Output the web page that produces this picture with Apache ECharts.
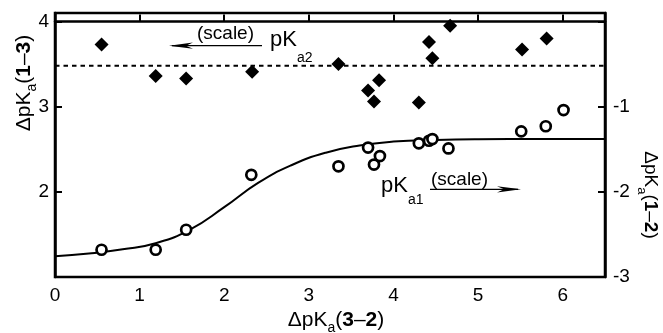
<!DOCTYPE html>
<html>
<head>
<meta charset="utf-8">
<script src="https://cdn.jsdelivr.net/npm/echarts@6/dist/echarts.min.js"></script>
<style>html,body{margin:0;padding:0;background:#fff;}#c{width:663px;height:333px;}</style>
</head>
<body>
<div id="c"></div>
<script>
// ---- data ----
const pKa2X = [0.55, 1.19, 1.55, 2.33, 3.35, 3.70, 3.77, 3.83, 4.30, 4.42, 4.46, 4.67, 5.52, 5.81];
const pKa2Y = [3.73, 3.36, 3.33, 3.41, 3.50, 3.19, 3.06, 3.31, 3.05, 3.76, 3.57, 3.95, 3.67, 3.80]; // left scale

const pKa1X = [0.55, 1.19, 1.55, 2.32, 3.35, 3.70, 3.77, 3.84, 4.30, 4.42, 4.46, 4.65, 5.51, 5.80, 6.01];
const pKa1Y = [-2.68, -2.68, -2.445, -1.80, -1.70, -1.48, -1.68, -1.58, -1.43, -1.40, -1.38, -1.49, -1.29, -1.23, -1.04]; // right scale

const fitX = [0, 0.4, 0.8, 1.2, 1.6, 2.0, 2.4, 2.8, 3.2, 3.6, 4.0, 4.5, 5.0, 5.75, 6.5];
const fitY = [-2.757, -2.725, -2.675, -2.60, -2.44, -2.18, -1.895, -1.685, -1.54, -1.455, -1.41, -1.39, -1.382, -1.38, -1.38]; // right scale

const refLineX = [0, 6.5];
const refLineY = [3.48, 3.48]; // left scale

const xTickLabels = ['0', '1', '2', '3', '4', '5', '6'];
const leftTickLabels = ['2', '3', '4'];
const rightTickLabels = ['-1', '-2', '-3'];

// ---- helpers ----
const FAM = '"Liberation Sans", Arial, Helvetica, sans-serif';
const mctx = document.createElement('canvas').getContext('2d');
function tw(t, size, bold) { mctx.font = (bold ? 'bold ' : '') + size + 'px ' + FAM; return mctx.measureText(t).width; }
function pieceGroup(pieces, x, y, rotation, center) {
  let total = 0;
  pieces.forEach(p => { p.w = tw(p.t, p.s, p.b); total += p.w; });
  let cx = center ? -total / 2 : 0;
  const children = pieces.map(p => {
    const el = { type: 'text', x: cx, y: p.dy || 0, silent: true,
      style: { text: p.t, fill: '#000', font: (p.b ? 'bold ' : '') + p.s + 'px ' + FAM, align: 'left', verticalAlign: 'middle' } };
    cx += p.w;
    return el;
  });
  return { type: 'group', x: x, y: y, rotation: rotation || 0, children: children, silent: true };
}
const zip = (a, b) => a.map((v, i) => [v, b[i]]);

const chart = echarts.init(document.getElementById('c'), null, { renderer: 'canvas' });
const axisCommon = {
  axisLine: { show: true, lineStyle: { color: '#000', width: 2.5 } },
  axisTick: { show: true, inside: true, length: 7, lineStyle: { color: '#000', width: 2 } },
  splitLine: { show: false },
};
const option = {
  animation: false,
  backgroundColor: '#fff',
  grid: { left: 55, right: 58, top: 13, bottom: 56, show: true, borderColor: '#000', borderWidth: 2.5, backgroundColor: 'transparent' },
  xAxis: Object.assign({ type: 'value', min: 0, max: 6.5, interval: 1,
    axisLabel: { color: '#000', fontSize: 19, fontFamily: FAM, margin: 9,
      formatter: v => xTickLabels.includes(String(v)) ? String(v) : '' } }, axisCommon),
  yAxis: [
    Object.assign({ type: 'value', min: 1, max: 4.1, interval: 1, position: 'left',
      axisLabel: { color: '#000', fontSize: 19, fontFamily: FAM, margin: 6,
        formatter: v => leftTickLabels.includes(String(v)) ? String(v) : '' } }, axisCommon),
    Object.assign({ type: 'value', min: -3, max: 0.1, interval: 1, position: 'right',
      axisLabel: { color: '#000', fontSize: 19, fontFamily: FAM, margin: 8,
        formatter: v => rightTickLabels.includes(String(v)) ? String(v) : '' } }, axisCommon)
  ],
  series: [
    { type: 'line', yAxisIndex: 0, data: zip(refLineX, refLineY), symbol: 'none',
      lineStyle: { color: '#000', width: 2, type: [4.5, 4] }, z: 1 },
    { type: 'line', yAxisIndex: 1, data: zip(fitX, fitY), symbol: 'none', smooth: 0.5,
      lineStyle: { color: '#000', width: 2 }, z: 2 },
    { type: 'scatter', yAxisIndex: 0, data: zip(pKa2X, pKa2Y), symbol: 'diamond', symbolSize: [14, 14],
      itemStyle: { color: '#000', opacity: 1 }, z: 3 },
    { type: 'scatter', yAxisIndex: 1, data: zip(pKa1X, pKa1Y), symbol: 'circle', symbolSize: 10,
      itemStyle: { color: '#fff', borderColor: '#000', borderWidth: 2.7, opacity: 1 }, z: 4 }
  ],
  graphic: [
    // bottom axis title
    pieceGroup([{ t: 'ΔpK', s: 21 }, { t: 'a', s: 14, dy: 8 }, { t: '(', s: 21 }, { t: '3', s: 21, b: true },
      { t: '–', s: 21 }, { t: '2', s: 21, b: true }, { t: ')', s: 21 }], 336, 320, 0, true),
    // left axis title
    pieceGroup([{ t: 'ΔpK', s: 21 }, { t: 'a', s: 14, dy: 8 }, { t: '(', s: 21 }, { t: '1', s: 21, b: true },
      { t: '–', s: 21 }, { t: '3', s: 21, b: true }, { t: ')', s: 21 }], 24, 83, Math.PI / 2, true),
    // right axis title
    pieceGroup([{ t: 'ΔpK', s: 19 }, { t: 'a', s: 13, dy: 8 }, { t: '(', s: 19 }, { t: '1', s: 19, b: true },
      { t: '–', s: 19 }, { t: '2', s: 19, b: true }, { t: ')', s: 19 }], 650, 195, -Math.PI / 2, true),
    // pKa2 annotation
    pieceGroup([{ t: '(scale)', s: 19 }], 197, 34, 0, false),
    pieceGroup([{ t: 'pK', s: 22 }, { t: 'a2', s: 14, dy: 18 }], 270, 40, 0, false),
    { type: 'line', shape: { x1: 172, y1: 45.7, x2: 262, y2: 45.7 }, style: { stroke: '#000', lineWidth: 1.2 }, silent: true },
    { type: 'polygon', shape: { points: [[169, 45.7], [193, 42.6], [186, 45.7], [193, 48.8]] }, style: { fill: '#000' }, silent: true },
    // pKa1 annotation
    pieceGroup([{ t: 'pK', s: 22 }, { t: 'a1', s: 14, dy: 15 }], 381, 185.5, 0, false),
    pieceGroup([{ t: '(scale)', s: 19 }], 431, 180, 0, false),
    { type: 'line', shape: { x1: 430, y1: 189.3, x2: 518, y2: 189.3 }, style: { stroke: '#000', lineWidth: 1.2 }, silent: true },
    { type: 'polygon', shape: { points: [[521, 189.3], [497, 186.2], [504, 189.3], [497, 192.4]] }, style: { fill: '#000' }, silent: true }
  ]
};
chart.setOption(option);
</script>
</body>
</html>
